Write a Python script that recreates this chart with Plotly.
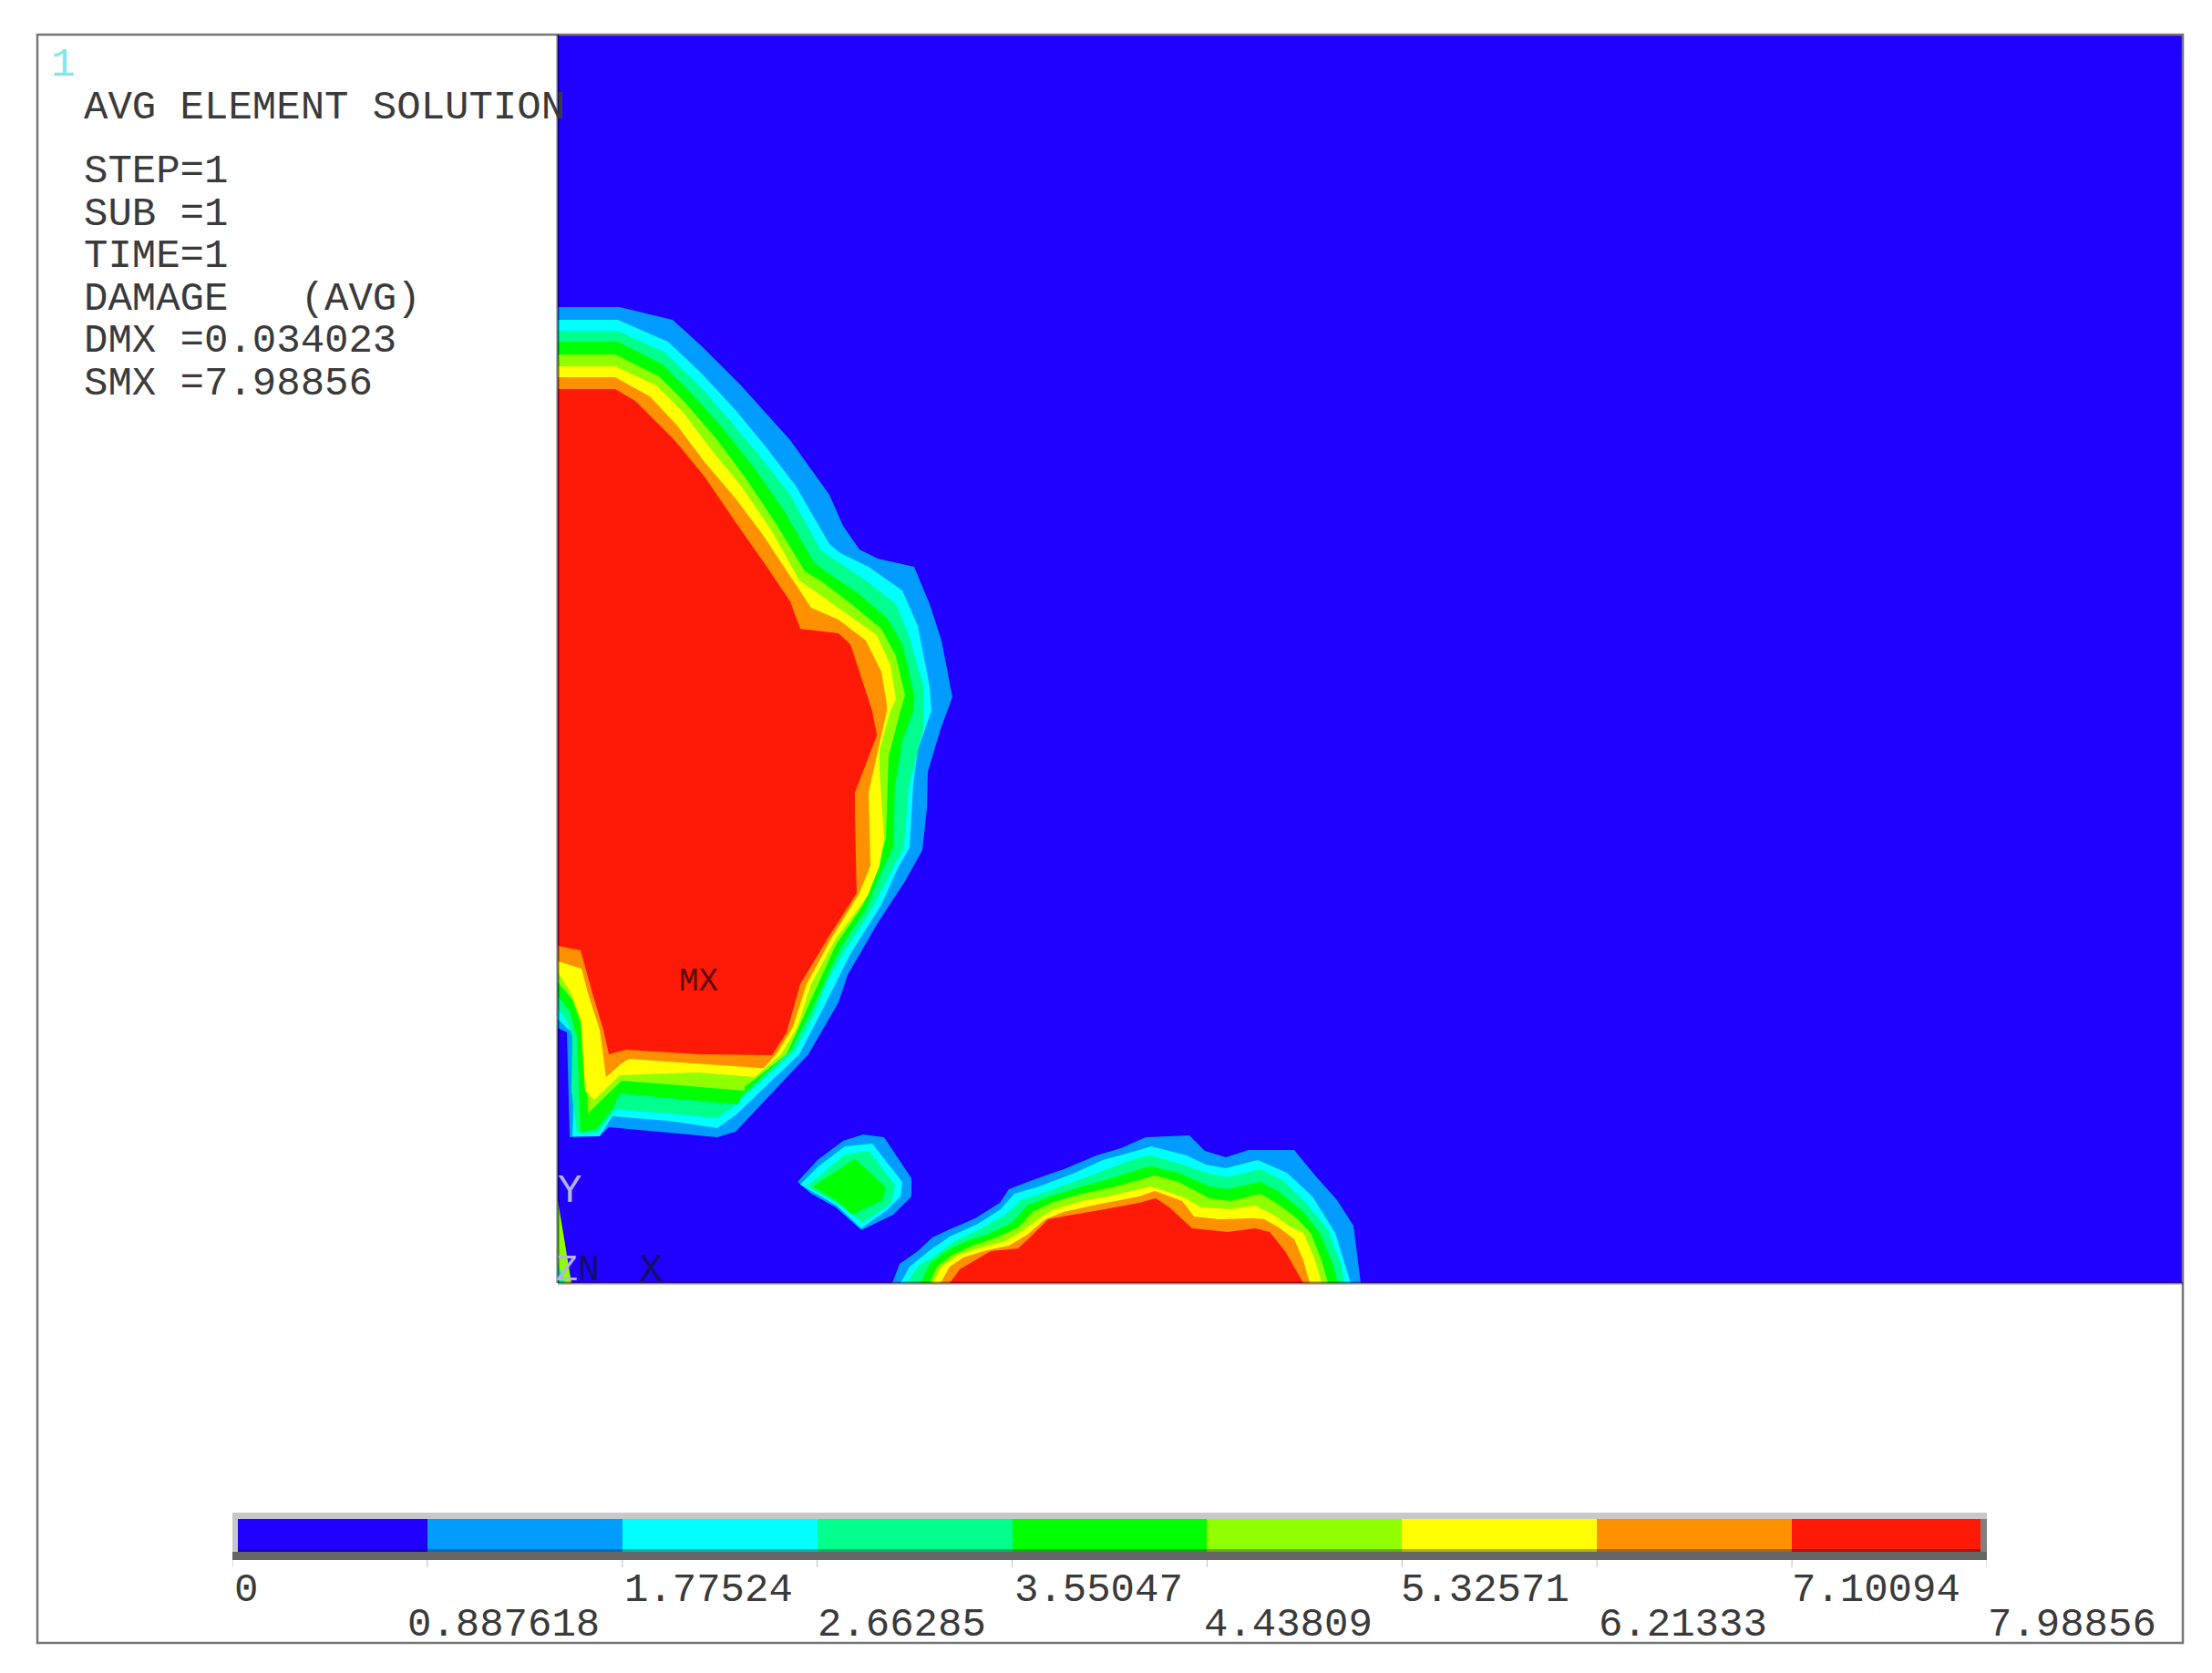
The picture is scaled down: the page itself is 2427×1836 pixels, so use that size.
import plotly.graph_objects as go

# ---- contour levels and colours of the legend bar ----
levels = [0, 0.887618, 1.77524, 2.66285, 3.55047, 4.43809, 5.32571, 6.21333, 7.10094, 7.98856]
level_labels = ["0", "0.887618", "1.77524", "2.66285", "3.55047", "4.43809", "5.32571", "6.21333", "7.10094", "7.98856"]
band_colors = ["#2000FF", "#009CFF", "#00FFFF", "#00FF8C", "#00FF00", "#90FF00", "#FFFF00", "#FF9000", "#FF1A08"]

info_lines = ["AVG ELEMENT SOLUTION", "STEP=1", "SUB =1", "TIME=1", "DAMAGE   (AVG)", "DMX =0.034023", "SMX =7.98856"]

# ---- damage contours in model units, main zone (one outline per level) ----
main_1 = [(0,1071),(68,1071),(126,1057),(158,1028),(201,985),(255,925),(298,865),(313,831),(331,805),(351,795),(391,786),(408,745),(421,705),(433,643),(420,608),(406,561),(405,521),(400,475),(381,441),(351,395),(318,338),(308,308),(275,251),(195,166),(175,160),(108,166),(56,171),(45,161),(13,160),(10,275),(0,280)]
main_2 = [(0,1057),(66,1057),(121,1033),(158,998),(195,958),(228,918),(261,875),(298,811),(310,801),(341,786),(378,760),(395,721),(408,655),(410,628),(395,585),(390,548),(386,478),(373,455),(355,415),(321,361),(308,335),(288,295),(265,251),(196,185),(175,170),(121,178),(60,183),(46,161),(16,161),(20,271),(10,280),(0,290)]
main_3 = [(0,1045),(66,1045),(118,1021),(155,985),(188,948),(221,908),(255,865),(288,805),(308,791),(338,771),(371,745),(385,711),(401,655),(401,608),(385,545),(380,478),(365,451),(345,411),(315,365),(298,335),(281,295),(260,255),(195,196),(175,181),(121,186),(63,191),(51,175),(43,165),(21,165),(15,211),(16,271),(10,288),(0,301)]
main_4 = [(0,1033),(66,1033),(115,1008),(148,975),(181,938),(215,895),(248,848),(281,791),(295,780),(328,758),(361,730),(378,701),(391,645),(390,628),(378,595),(370,545),(368,478),(355,451),(338,411),(310,368),(276,295),(255,255),(201,205),(198,196),(121,203),(68,208),(60,191),(43,170),(25,165),(23,211),(21,271),(13,298),(0,315)]
main_5 = [(0,1019),(63,1019),(111,995),(141,965),(175,925),(205,885),(241,831),(271,781),(288,771),(321,746),(355,718),(371,688),(381,645),(376,628),(363,578),(360,488),(351,455),(335,415),(305,371),(271,295),(251,251),(205,215),(205,211),(121,218),(70,222),(33,186),(30,271),(16,311),(0,330)]
main_6 = [(0,1006),(63,1006),(108,985),(138,955),(168,915),(201,875),(235,825),(265,771),(281,760),(315,736),(350,711),(365,678),(371,641),(365,628),(353,585),(353,561),(358,488),(353,458),(340,425),(305,378),(278,328),(263,281),(245,251),(216,226),(155,231),(68,228),(40,201),(30,211),(25,291),(13,321),(0,341)]
main_7 = [(0,994),(63,994),(101,973),(131,941),(161,901),(195,861),(225,821),(255,775),(278,741),(308,728),(338,705),(355,671),(361,635),(361,628),(341,538),(343,458),(331,428),(300,378),(273,328),(258,281),(241,253),(226,236),(221,236),(121,243),(78,246),(70,241),(53,226),(46,278),(33,318),(26,345),(0,353)]
main_8 = [(0,981),(63,981),(85,968),(128,925),(161,885),(195,835),(228,788),(255,748),(266,718),(308,713),(321,701),(335,658),(345,628),(350,601),(326,538),(326,511),(328,428),(296,378),(266,328),(251,275),(235,250),(155,251),(75,256),(56,251),(50,278),(38,318),(25,365),(0,370)]

# ---- bottom zone ----
low_1 = [(367,0),(375,21),(395,35),(411,50),(428,58),(458,71),(485,88),(495,103),(521,113),(558,126),(591,140),(618,148),(645,160),(693,162),(710,145),(733,138),(758,146),(808,146),(831,118),(855,91),(873,63),(881,0)]
low_2 = [(376,0),(386,18),(411,38),(430,51),(461,65),(486,81),(501,98),(528,106),(565,120),(598,135),(638,146),(651,150),(690,140),(711,130),(733,126),(768,135),(800,121),(828,95),(853,55),(870,0)]
low_3 = [(383,0),(395,18),(415,31),(435,46),(465,60),(491,75),(508,91),(535,100),(571,113),(605,126),(638,138),(651,140),(685,130),(715,120),(735,116),(771,125),(795,113),(821,88),(845,58),(860,18),(863,0)]
low_4 = [(398,0),(408,21),(426,35),(448,46),(471,53),(498,66),(515,85),(540,95),(575,106),(608,115),(638,125),(651,128),(681,121),(715,106),(735,103),(771,111),(791,100),(818,78),(836,55),(851,18),(856,0)]
low_5 = [(408,0),(416,18),(433,31),(455,41),(481,50),(505,61),(521,78),(541,88),(575,98),(608,105),(638,113),(655,118),(681,111),(715,93),(738,90),(771,98),(788,88),(811,71),(826,55),(838,25),(845,0)]
low_6 = [(411,0),(421,18),(438,30),(461,38),(491,46),(511,58),(528,71),(545,81),(575,90),(608,96),(638,103),(651,106),(685,95),(706,83),(738,81),(765,85),(785,75),(805,61),(818,55),(831,25),(838,0)]
low_7 = [(420,0),(430,18),(445,28),(471,36),(495,41),(515,53),(535,70),(555,78),(591,86),(638,95),(655,101),(685,90),(698,73),(725,70),(763,71),(775,70),(791,61),(808,48),(818,25),(825,0)]
low_8 = [(430,0),(441,15),(475,35),(505,38),(518,50),(538,70),(565,75),(595,80),(638,88),(656,93),(671,83),(696,60),(735,56),(765,60),(781,56),(798,35),(818,0)]

# ---- small island ----
isle_1 = [(263,111),(285,135),(313,156),(335,163),(358,160),(388,115),(388,95),(368,75),(333,58),(305,83),(278,98)]
isle_2 = [(266,108),(286,128),(315,150),(345,153),(378,111),(376,95),(361,80),(333,60),(306,85),(280,100)]
isle_3 = [(273,106),(315,141),(341,145),(370,108),(366,88),(335,66),(311,85)]
isle_4 = [(280,106),(326,136),(360,105),(356,91),(323,75),(305,91)]

# ---- wedge at the origin ----
wedge_1 = [(0,91),(15,0),(0,0)]
wedge_2 = [(0,22),(8,0),(0,0)]

W, H = 2427, 1836
MONO = "Liberation Mono"
fx = lambda p: p / W
fy = lambda p: 1 - p / H

fig = go.Figure()


def poly(pts, color):
    fig.add_trace(go.Scatter(x=[p[0] for p in pts], y=[p[1] for p in pts], mode="lines",
                             fill="toself", fillcolor=color, line=dict(width=0, color=color),
                             hoverinfo="skip", showlegend=False, xaxis="x", yaxis="y"))


for group in ([main_1, main_2, main_3, main_4, main_5, main_6, main_7, main_8],
              [low_1, low_2, low_3, low_4, low_5, low_6, low_7, low_8],
              [isle_1, isle_2, isle_3, isle_4]):
    for i, pts in enumerate(group):
        poly(pts, band_colors[i + 1])
poly(wedge_1, band_colors[5])
poly(wedge_2, band_colors[3])

# legend bar through its own axis
fig.add_trace(go.Bar(x=[levels[i + 1] - levels[i] for i in range(9)], base=levels[:-1],
                     y=[0] * 9, width=1, orientation="h", marker=dict(color=band_colors, line=dict(width=0)),
                     xaxis="x2", yaxis="y2", hoverinfo="skip", showlegend=False))

shapes = []
# outer frame
shapes.append(dict(type="rect", xref="paper", yref="paper", x0=fx(41), x1=fx(2395), y0=fy(38), y1=fy(1803),
                   line=dict(color="#777777", width=2.5), layer="above"))
# darkened plot edges
shapes.append(dict(type="line", xref="paper", yref="paper", x0=fx(612), x1=fx(612), y0=fy(38), y1=fy(1408),
                   line=dict(color="rgba(0,0,40,0.55)", width=3), layer="above"))
shapes.append(dict(type="line", xref="paper", yref="paper", x0=fx(612), x1=fx(2395), y0=fy(1408), y1=fy(1408),
                   line=dict(color="rgba(60,20,40,0.55)", width=3), layer="above"))
# bevel of the legend bar
for x0, x1, y0, y1, col in [(255, 2180, 1660, 1667, "#c8c8c8"), (255, 2180, 1703, 1712, "#666666"),
                            (255, 261, 1667, 1703, "#c8c8c8"), (2173, 2180, 1667, 1703, "#808080"),
                            (261, 2173, 1700, 1703, "rgba(0,0,0,0.3)")]:
    shapes.append(dict(type="rect", xref="paper", yref="paper", x0=fx(x0), x1=fx(x1), y0=fy(y0), y1=fy(y1),
                       fillcolor=col, line=dict(width=0), layer="above"))
for v in levels:
    shapes.append(dict(type="line", xref="x2", yref="paper", x0=v, x1=v, y0=fy(1712), y1=fy(1720),
                       line=dict(color="#c0c0c0", width=1), layer="above"))

ann = []


def txt(s, px, py, size=44, color="#3a3a3a"):
    ann.append(dict(text=s, xref="paper", yref="paper", x=fx(px), y=fy(py), xanchor="left", yanchor="middle",
                    showarrow=False, font=dict(family=MONO, size=size, color=color)))


txt("1", 54, 71, color="#7fe8e8")
info_y = [118, 188, 235, 281, 328, 374, 421]
for s, py in zip(info_lines, info_y):
    txt(s.replace(" ", "\u00a0"), 90, py)

# legend labels, alternating rows, through the legend axis
shift = [0, -24, 0, -2, 0, -5, -3, 0, -2, -1]
for i, (v, s) in enumerate(zip(levels, level_labels)):
    ann.append(dict(text=s, xref="x2", yref="paper", x=v, y=fy(1745 if i % 2 == 0 else 1783), xanchor="left",
                    yanchor="middle", showarrow=False, xshift=shift[i],
                    font=dict(family=MONO, size=44, color="#3a3a3a")))

# labels on the model
for s, x, y, size, col in [("MX", 155, 331, 36, "#5a0808"), ("Y", 13, 101, 44, "#b4b4e6"),
                           ("Z", 10, 14, 40, "#b4b4e6"), ("N", 34, 14, 40, "#10106a"), ("X", 102, 14, 44, "#10106a")]:
    ann.append(dict(text=s, xref="x", yref="y", x=x, y=y, xanchor="center", yanchor="middle", showarrow=False,
                    font=dict(family=MONO, size=size, color=col)))

fig.update_layout(
    width=W, height=H, autosize=False, margin=dict(l=0, r=0, t=0, b=0, pad=0),
    paper_bgcolor="white", plot_bgcolor=band_colors[0], barmode="overlay", bargap=0,
    xaxis=dict(domain=[fx(612), fx(2395)], range=[0, 1783], visible=False, fixedrange=True),
    yaxis=dict(domain=[fy(1408), fy(38)], range=[0, 1370], visible=False, fixedrange=True),
    xaxis2=dict(domain=[fx(255), fx(2180)], range=[0, 7.98856], visible=False, anchor="y2", fixedrange=True),
    yaxis2=dict(domain=[fy(1703), fy(1667)], range=[-0.5, 0.5], visible=False, anchor="x2", fixedrange=True),
    shapes=shapes, annotations=ann,
)

fig.write_html("out.html", config=dict(displayModeBar=False),
               post_script="document.body.style.margin='0';")
